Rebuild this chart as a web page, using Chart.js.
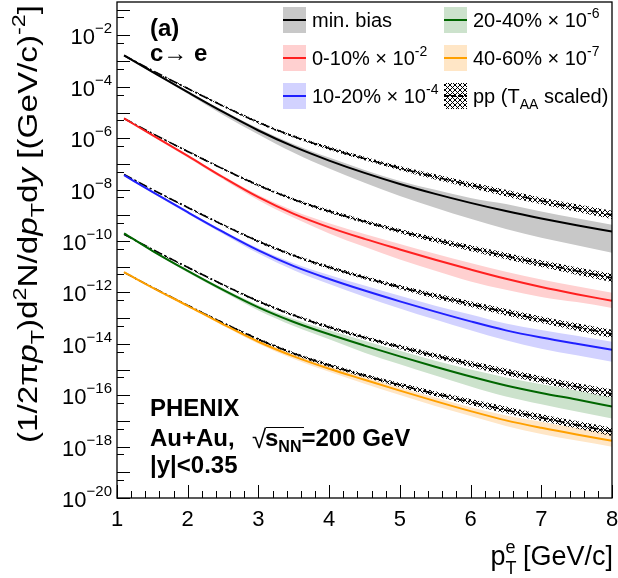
<!DOCTYPE html>
<html>
<head>
<meta charset="utf-8">
<script src="https://cdn.jsdelivr.net/npm/chart.js@4"></script>
<style>
  html, body { margin: 0; padding: 0; background: #fff; }
  canvas { display: block; }
</style>
</head>
<body>
<canvas id="spectra" width="618" height="578"></canvas>
<script>
// electron pT bins (GeV/c)
const pT = [1.1, 1.5, 2, 2.5, 3, 3.5, 4, 4.5, 5, 5.5, 6, 6.5, 7, 7.5, 8];

// Au+Au c->e invariant yields, as drawn (already times the legend factor)
const aaMinBias = [1.66e-3, 3.80e-4, 6.17e-5, 1.05e-5, 2.00e-6, 4.68e-7, 1.35e-7, 4.47e-8, 1.66e-8, 6.84e-9, 3.05e-9, 1.46e-9, 7.50e-10, 4.07e-10, 2.32e-10];
const aa0010 = [5.89e-6, 1.32e-6, 2.05e-7, 3.03e-8, 5.09e-9, 1.14e-9, 3.40e-10, 1.21e-10, 4.70e-11, 1.87e-11, 7.80e-12, 3.40e-12, 1.63e-12, 8.55e-13, 4.70e-13];
const aa1020 = [3.63e-8, 8.17e-9, 1.32e-9, 2.25e-10, 4.29e-11, 1.05e-11, 3.33e-12, 1.18e-12, 4.49e-13, 1.79e-13, 7.45e-14, 3.33e-14, 1.75e-14, 1.00e-14, 5.92e-15];
const aa2040 = [2.00e-10, 4.17e-11, 6.92e-12, 1.26e-12, 2.63e-13, 7.08e-14, 2.34e-14, 8.51e-15, 3.24e-15, 1.29e-15, 5.37e-16, 2.40e-16, 1.23e-16, 6.76e-17, 3.63e-17];
const aa4060 = [6.17e-12, 1.55e-12, 3.02e-13, 5.75e-14, 1.20e-14, 3.24e-15, 1.07e-15, 3.98e-16, 1.51e-16, 5.89e-17, 2.40e-17, 1.05e-17, 5.37e-18, 2.95e-18, 1.70e-18];

// relative systematic band (up / down)
const upMinBias = [0.09, 0.09, 0.09, 0.14, 0.20, 0.25, 0.31, 0.31, 0.31, 0.43, 0.56, 0.87, 0.87, 0.87, 0.87];
const dnMinBias = [0.09, 0.09, 0.13, 0.24, 0.30, 0.42, 0.51, 0.59, 0.66, 0.71, 0.76, 0.80, 0.82, 0.83, 0.85];
const up0010 = [0.05, 0.05, 0.09, 0.14, 0.20, 0.31, 0.43, 0.56, 0.64, 0.71, 0.79, 0.87, 0.96, 1.05, 1.05];
const dn0010 = [0.04, 0.09, 0.13, 0.16, 0.24, 0.30, 0.42, 0.51, 0.59, 0.63, 0.66, 0.63, 0.59, 0.51, 0.47];
const up1020 = [0.05, 0.05, 0.09, 0.14, 0.20, 0.31, 0.43, 0.56, 0.64, 0.71, 0.87, 0.87, 0.96, 1.05, 1.05];
const dn1020 = [0.04, 0.09, 0.13, 0.16, 0.24, 0.30, 0.36, 0.42, 0.47, 0.51, 0.55, 0.59, 0.63, 0.64, 0.66];
const up2040 = [0.05, 0.05, 0.09, 0.14, 0.20, 0.31, 0.43, 0.56, 0.64, 0.71, 0.87, 1.05, 1.15, 1.24, 1.24];
const dn2040 = [0.04, 0.09, 0.13, 0.16, 0.24, 0.30, 0.36, 0.47, 0.51, 0.55, 0.59, 0.63, 0.64, 0.66, 0.66];
const up4060 = [0.05, 0.05, 0.09, 0.09, 0.14, 0.20, 0.25, 0.31, 0.31, 0.37, 0.43, 0.56, 0.71, 0.79, 0.87];
const dn4060 = [0.04, 0.04, 0.09, 0.13, 0.16, 0.20, 0.24, 0.30, 0.33, 0.36, 0.36, 0.39, 0.42, 0.42, 0.42];

// p+p reference times T_AA (and the same legend factor)
const ppMinBias = [1.66e-3, 4.33e-4, 8.63e-5, 1.80e-5, 4.13e-6, 1.16e-6, 4.04e-7, 1.61e-7, 6.85e-8, 3.13e-8, 1.50e-8, 7.35e-9, 3.68e-9, 1.93e-9, 1.04e-9];
const pp0010 = [5.89e-6, 1.53e-6, 3.06e-7, 6.40e-8, 1.47e-8, 4.13e-9, 1.43e-9, 5.70e-10, 2.43e-10, 1.11e-10, 5.32e-11, 2.61e-11, 1.31e-11, 6.85e-12, 3.68e-12];
const pp1020 = [3.89e-8, 1.01e-8, 2.02e-9, 4.23e-10, 9.68e-11, 2.73e-11, 9.46e-12, 3.77e-12, 1.61e-12, 7.35e-13, 3.52e-13, 1.72e-13, 8.63e-14, 4.53e-14, 2.43e-14];
const pp2040 = [1.82e-10, 4.74e-11, 9.46e-12, 1.98e-12, 4.53e-13, 1.28e-13, 4.43e-14, 1.76e-14, 7.52e-15, 3.44e-15, 1.64e-15, 8.05e-16, 4.04e-16, 2.12e-16, 1.14e-16];
const pp4060 = [6.03e-12, 1.57e-12, 3.13e-13, 6.55e-14, 1.50e-14, 4.23e-15, 1.47e-15, 5.83e-16, 2.49e-16, 1.14e-16, 5.45e-17, 2.67e-17, 1.34e-17, 7.02e-18, 3.77e-18];
const ppErr = [0.05, 0.05, 0.08, 0.08, 0.12, 0.12, 0.17, 0.17, 0.22, 0.26, 0.30, 0.35, 0.35, 0.40, 0.45];

const yTickExp = [-2, -4, -6, -8, -10, -12, -14, -16, -18, -20];
const xTicks = [1, 2, 3, 4, 5, 6, 7, 8];

const FAMILY = '"Liberation Sans", Arial, Helvetica, sans-serif';

const series = [
  { name: 'min. bias', exp: null, aa: aaMinBias, up: upMinBias, dn: dnMinBias, pp: ppMinBias, line: '#000000', band: '#c8c8c8' },
  { name: '0-10%', exp: '-2', aa: aa0010, up: up0010, dn: dn0010, pp: pp0010, line: '#ff2020', band: '#ffd0d0' },
  { name: '10-20%', exp: '-4', aa: aa1020, up: up1020, dn: dn1020, pp: pp1020, line: '#2020ff', band: '#d2d2ff' },
  { name: '20-40%', exp: '-6', aa: aa2040, up: up2040, dn: dn2040, pp: pp2040, line: '#006600', band: '#cce2cc' },
  { name: '40-60%', exp: '-7', aa: aa4060, up: up4060, dn: dn4060, pp: pp4060, line: '#ffa000', band: '#ffe6c6' }
];

const canvas = document.getElementById('spectra');
const ctx = canvas.getContext('2d');

function hatchPattern(size) {
  const tile = document.createElement('canvas');
  tile.width = size; tile.height = size;
  const g = tile.getContext('2d');
  g.strokeStyle = '#000';
  g.lineWidth = 1;
  g.beginPath();
  g.moveTo(0, 0); g.lineTo(size, size);
  g.moveTo(size, 0); g.lineTo(0, size);
  g.stroke();
  return ctx.createPattern(tile, 'repeat');
}
const hatch = hatchPattern(5);

const pts = vals => vals.map((v, i) => ({ x: pT[i], y: v }));
const none = 'rgba(0,0,0,0)';

const datasets = [];
series.forEach(s => {
  datasets.push({ data: pts(s.aa), borderColor: s.line, borderWidth: 2, order: 0 });
  datasets.push({ data: pts(s.pp), borderColor: '#000', borderWidth: 1.6, borderDash: [9, 3, 2, 3], order: 1 });
  datasets.push({ data: pts(s.pp.map((v, i) => v / (1 + ppErr[i]))), borderColor: none, borderWidth: 1, order: 2 });
  datasets.push({ data: pts(s.pp.map((v, i) => v * (1 + ppErr[i]))), borderColor: none, borderWidth: 1, fill: '-1', backgroundColor: hatch, order: 2 });
  datasets.push({ data: pts(s.aa.map((v, i) => v * (1 - s.dn[i]))), borderColor: none, borderWidth: 1, order: 3 });
  datasets.push({ data: pts(s.aa.map((v, i) => v * (1 + s.up[i]))), borderColor: none, borderWidth: 1, fill: '-1', backgroundColor: s.band, order: 3 });
});

function fontOf(p) {
  return (p.b ? 'bold ' : '') + (p.i ? 'italic ' : '') + p.s + 'px ' + FAMILY;
}
function richWidth(c, parts) {
  let w = 0;
  parts.forEach(p => { c.font = fontOf(p); if (!p.hold) w += c.measureText(p.t).width; });
  return w;
}
function drawRich(c, x, y, parts, align) {
  const w = richWidth(c, parts);
  let cx = align === 'right' ? x - w : align === 'center' ? x - w / 2 : x;
  c.textAlign = 'left';
  c.textBaseline = 'alphabetic';
  parts.forEach(p => {
    c.font = fontOf(p);
    c.fillText(p.t, cx, y + (p.dy || 0));
    if (!p.hold) cx += c.measureText(p.t).width;
  });
}

const yTitle = [
  { t: '(1/2\u03c0', s: 27 },
  { t: 'p', s: 27, i: true },
  { t: 'T', s: 19, dy: 7 },
  { t: ')d', s: 27 },
  { t: '2', s: 19, dy: -11 },
  { t: 'N/d', s: 27 },
  { t: 'p', s: 27, i: true },
  { t: 'T', s: 19, dy: 7 },
  { t: 'd', s: 27 },
  { t: 'y', s: 27, i: true },
  { t: ' [(GeV/c)', s: 27 },
  { t: '-2', s: 19, dy: -12 },
  { t: ']', s: 27 }
];

const decor = {
  id: 'decor',
  afterDraw(chart) {
    const c = chart.ctx;
    const a = chart.chartArea;
    const x = chart.scales.x, y = chart.scales.y;
    c.save();
    c.fillStyle = '#000';
    c.strokeStyle = '#000';

    // frame
    c.lineWidth = 1.3;
    c.strokeRect(a.left, a.top, a.right - a.left, a.bottom - a.top);

    // ticks, inside the frame
    c.lineWidth = 1;
    c.beginPath();
    for (let i = 0; i <= 35; i++) {
      const px = Math.round(x.getPixelForValue(1 + i * 0.2)) + 0.5;
      const len = i % 5 === 0 ? 13 : 7;
      c.moveTo(px, a.bottom); c.lineTo(px, a.bottom - len);
    }
    for (let n = -20; n <= -1; n++) {
      const py = Math.round(y.getPixelForValue(Math.pow(10, n))) + 0.5;
      c.moveTo(a.left, py); c.lineTo(a.left + 13, py);
      const half = 5 * Math.pow(10, n);
      if (half < y.max) {
        const ph = Math.round(y.getPixelForValue(half)) + 0.5;
        c.moveTo(a.left, ph); c.lineTo(a.left + 7, ph);
      }
    }
    c.stroke();

    // tick labels
    xTicks.forEach(v => {
      drawRich(c, x.getPixelForValue(v), a.bottom + 28, [{ t: String(v), s: 22 }], 'center');
    });
    yTickExp.forEach(e => {
      const py = y.getPixelForValue(Math.pow(10, e));
      drawRich(c, a.left - 5, py + 9, [{ t: '10', s: 22 }, { t: '\u2212' + Math.abs(e), s: 15, dy: -11 }], 'right');
    });

    // x title
    drawRich(c, 613, 565, [
      { t: 'p', s: 27 },
      { t: 'T', s: 18, dy: 9, hold: true },
      { t: 'e', s: 18, dy: -12 },
      { t: ' [GeV/c]', s: 27 }
    ], 'right');

    // y title, rotated, right-aligned to the top and stretched to ROOT's length
    c.save();
    c.translate(37, 0);
    c.rotate(-Math.PI / 2);
    const w = richWidth(c, yTitle);
    const k = 438 / w;
    c.translate(-5, 0);
    c.scale(k, 1);
    drawRich(c, 0, 0, yTitle, 'right');
    c.restore();

    // labels
    drawRich(c, 150, 36, [{ t: '(a)', s: 24, b: true }], 'left');
    drawRich(c, 150, 61, [{ t: 'c\u2192 e', s: 24, b: true }], 'left');
    drawRich(c, 150, 416, [{ t: 'PHENIX', s: 24, b: true }], 'left');
    drawRich(c, 150, 446, [{ t: 'Au+Au,', s: 24, b: true }], 'left');
    // sqrt(s_NN)
    c.font = '26px ' + FAMILY;
    c.fillText('\u221a', 252, 448);
    c.lineWidth = 1.2;
    c.beginPath(); c.moveTo(266, 427.5); c.lineTo(304, 427.5); c.stroke();
    drawRich(c, 265, 446, [
      { t: 's', s: 24, b: true },
      { t: 'NN', s: 16, b: true, dy: 6 },
      { t: '=200 GeV', s: 24, b: true }
    ], 'left');
    drawRich(c, 150, 473, [{ t: '|y|<0.35', s: 24, b: true }], 'left');

    // legend
    const cols = [283, 444], rows = [20, 58, 96];
    const boxW = 23, boxH = 26;
    const entry = (col, row, fill, line, parts, dashed) => {
      const bx = cols[col], cy = rows[row];
      c.fillStyle = fill;
      c.fillRect(bx, cy - boxH / 2, boxW, boxH);
      c.strokeStyle = line;
      c.lineWidth = 2;
      c.setLineDash(dashed ? [5, 2] : []);
      c.beginPath(); c.moveTo(bx, cy); c.lineTo(bx + boxW, cy); c.stroke();
      c.setLineDash([]);
      c.fillStyle = '#000';
      drawRich(c, bx + 29, cy + 7, parts, 'left');
    };
    series.forEach((s, idx) => {
      const parts = [{ t: s.name, s: 20 }];
      if (s.exp) {
        parts[0].t += ' \u00d7 10';
        parts.push({ t: s.exp, s: 14, dy: -9 });
      }
      const col = idx < 3 ? 0 : 1;
      const row = idx < 3 ? idx : idx - 3;
      entry(col, row, s.band, s.line, parts, false);
    });
    entry(1, 2, hatch, '#000', [{ t: 'pp (T', s: 20 }, { t: 'AA', s: 14, dy: 6 }, { t: ' scaled)', s: 20 }], true);

    c.restore();
  }
};

new Chart(ctx, {
  type: 'line',
  data: { datasets },
  options: {
    responsive: false,
    animation: false,
    layout: { padding: { left: 117, right: 6, top: 2, bottom: 80 } },
    scales: {
      x: { type: 'linear', min: 1, max: 8, display: false },
      y: { type: 'logarithmic', min: 1e-20, max: 0.2, display: false }
    },
    elements: {
      point: { radius: 0 },
      line: { cubicInterpolationMode: 'monotone' }
    },
    plugins: {
      legend: { display: false },
      tooltip: { enabled: false }
    }
  },
  plugins: [decor]
});
</script>
</body>
</html>
